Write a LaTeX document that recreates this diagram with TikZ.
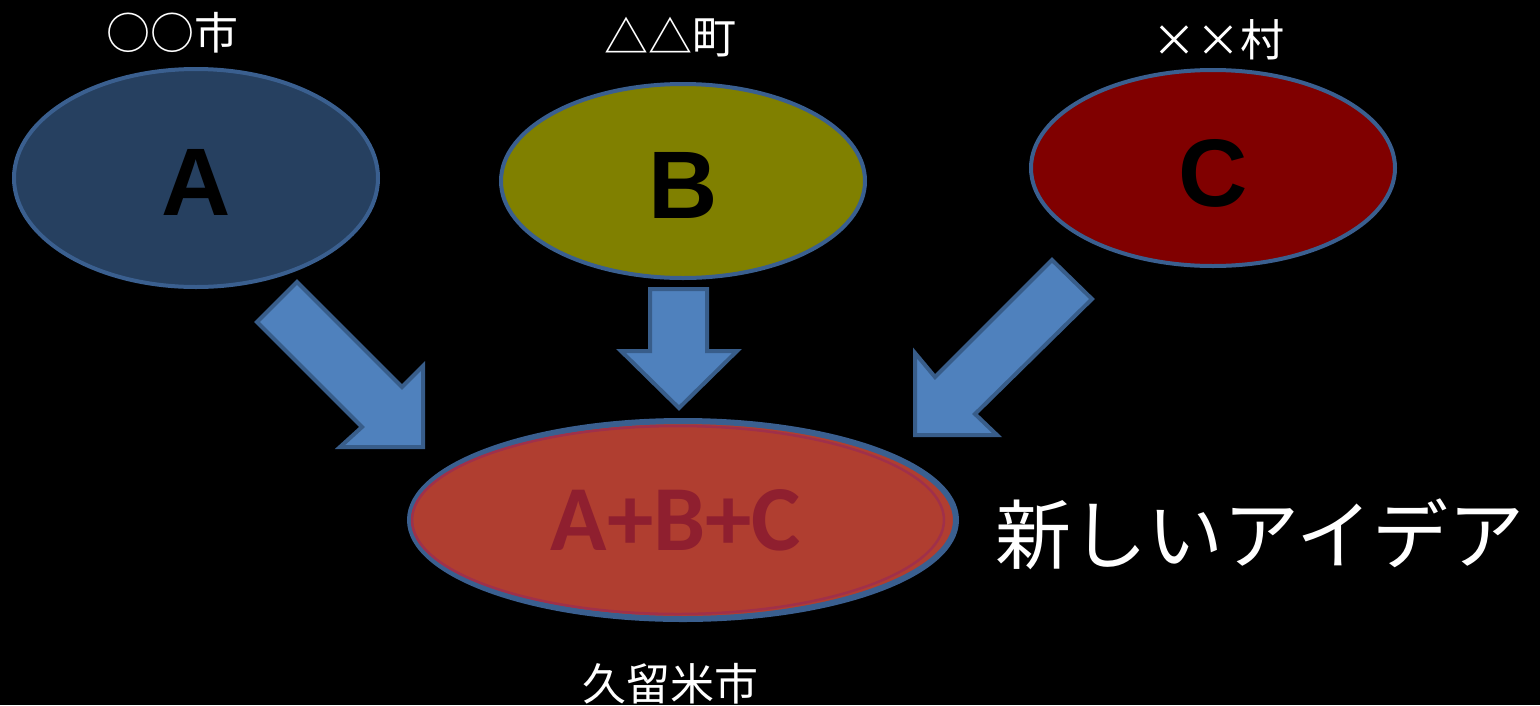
\documentclass[tikz,border=0pt]{standalone}
\usepackage{fontspec}
\newfontfamily\jpfont{Noto Sans CJK JP}
\newfontfamily\letterfont{Liberation Sans}
\newfontfamily\calfont{Carlito}
\usetikzlibrary{shapes.geometric}
\definecolor{bgblack}{HTML}{000000}
\definecolor{edgeblue}{HTML}{3A5F8F}
\definecolor{fillA}{HTML}{264060}
\definecolor{fillB}{HTML}{808000}
\definecolor{fillC}{HTML}{800000}
\definecolor{fillABC}{HTML}{B03E30}
\definecolor{innerred}{HTML}{A0304A}
\definecolor{textABC}{HTML}{8F1F2F}
\definecolor{arrowfill}{HTML}{4F81BD}
\definecolor{arrowedge}{HTML}{385D8A}
\tikzset{
  townell/.style={ellipse, draw=edgeblue, line width=4pt, inner sep=0pt},
  bigletter/.style={text=black, font=\letterfont\bfseries\fontsize{96}{96}\selectfont, anchor=base},
  label/.style={text=white, font=\jpfont\fontsize{44}{44}\selectfont},
  blockarrow/.style={fill=arrowfill, draw=arrowedge, line width=4pt, line join=miter},
}
\begin{document}
\begin{tikzpicture}[x=1pt,y=-1pt]
\fill[bgblack] (0,0) rectangle (1540,705);
\useasboundingbox (0,0) rectangle (1540,705);
% ellipses
\node[townell, fill=fillA, minimum width=364pt, minimum height=218pt] (A) at (196,178) {};
\node[townell, fill=fillB, minimum width=364pt, minimum height=194pt] (B) at (683,181) {};
\node[townell, fill=fillC, minimum width=364pt, minimum height=196pt] (C) at (1213,168) {};
\node[ellipse, draw=edgeblue, line width=6pt, fill=fillABC, minimum width=546pt, minimum height=198pt, inner sep=0pt] (N) at (683,520) {};
\node[ellipse, draw=innerred, line width=2.5pt, minimum width=532pt, minimum height=188pt, inner sep=0pt] (Ni) at (678,520) {};
% letters
\node[bigletter] (tA) at (196,215) {A};
\node[bigletter] (tB) at (683,218) {B};
\node[bigletter] (tC) at (1213,206) {C};
\node[anchor=base, text=textABC, font=\calfont\bfseries\fontsize{93}{93}\selectfont] (tN) at (676,550) {A+B+C};
% labels
\node[label] (lA) at (172,33) {○○市};
\node[label] (lB) at (670,37) {△△町};
\node[label] (lC) at (1218,40) {××村};
\node[label] (lN) at (670,684) {久留米市};
\node[text=white, font=\jpfont\fontsize{76}{76}\selectfont] (idea) at (1260,534) {新しいアイデア};
% block arrows
\draw[blockarrow] (297,282) -- (402,387) -- (423,366) -- (423,447) -- (340,447) -- (362,427) -- (257,322) -- cycle;
\draw[blockarrow] (650,289) -- (707,289) -- (707,351) -- (737,351) -- (679,408) -- (621,351) -- (650,351) -- cycle;
\draw[blockarrow] (1052,260) -- (1092,299) -- (975,414) -- (997,435) -- (915,435) -- (915,353) -- (935,377) -- cycle;
\end{tikzpicture}
\end{document}
